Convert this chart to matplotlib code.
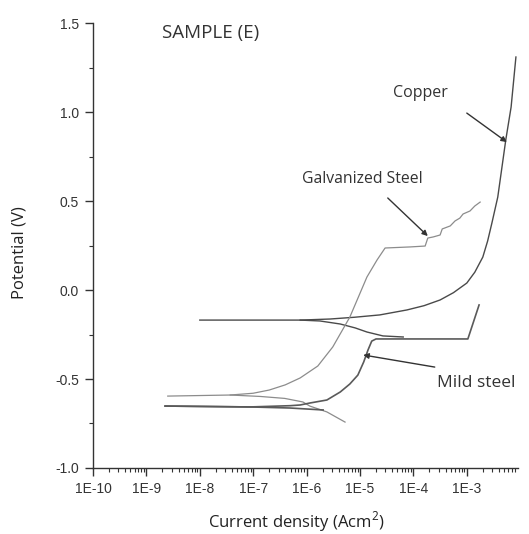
import numpy as np
import matplotlib
matplotlib.use("Agg")
import matplotlib.pyplot as plt
from matplotlib.ticker import FixedLocator, LogLocator, NullFormatter

plt.rcParams['font.family'] = ['Open Sans', 'DejaVu Sans']
plt.rcParams['mathtext.fontset'] = 'custom'
plt.rcParams['mathtext.rm'] = 'Open Sans'

# log10 of current density (A/cm2) and potential (V)
cu_anodic_logi = [-8.00, -6.12, -5.56, -5.10, -4.63, -4.12, -3.80, -3.50, -3.25, -3.00, -2.85, -2.70,
                  -2.61, -2.53, -2.42, -2.27, -2.17, -2.08]
cu_anodic_v = [-0.169, -0.169, -0.163, -0.153, -0.140, -0.112, -0.088, -0.056, -0.015, 0.039, 0.100, 0.185,
               0.275, 0.376, 0.522, 0.843, 1.028, 1.309]
cu_cathodic_logi = [-6.12, -5.75, -5.37, -5.09, -4.87, -4.57, -4.19]
cu_cathodic_v = [-0.169, -0.174, -0.191, -0.213, -0.236, -0.258, -0.264]

gs_anodic_logi = [-8.60, -7.43, -7.00, -6.70, -6.40, -6.12, -5.79, -5.51, -5.19, -4.87, -4.68, -4.53,
                  -4.06, -3.78, -3.73, -3.63, -3.50, -3.46, -3.31, -3.22, -3.13, -3.07, -2.94, -2.85, -2.75]
gs_anodic_v = [-0.596, -0.590, -0.580, -0.562, -0.533, -0.494, -0.427, -0.320, -0.152, 0.073, 0.169, 0.236,
               0.242, 0.247, 0.292, 0.298, 0.309, 0.343, 0.360, 0.388, 0.404, 0.427, 0.444, 0.472, 0.494]
gs_cathodic_logi = [-7.43, -6.87, -6.41, -6.07, -5.94, -5.62, -5.28]
gs_cathodic_v = [-0.590, -0.598, -0.609, -0.629, -0.652, -0.685, -0.742]

ms_anodic_logi = [-8.65, -7.06, -6.31, -6.12, -5.94, -5.62, -5.37, -5.19, -5.04, -4.93, -4.85, -4.78, -4.70,
                  -2.98, -2.77]
ms_anodic_v = [-0.652, -0.657, -0.650, -0.646, -0.635, -0.618, -0.573, -0.528, -0.478, -0.404, -0.337, -0.287,
               -0.275, -0.275, -0.084]
ms_cathodic_logi = [-8.65, -7.06, -6.31, -5.69]
ms_cathodic_v = [-0.652, -0.657, -0.663, -0.674]

yticks = [-1.0, -0.5, 0.0, 0.5, 1.0, 1.5]
xtick_exp = [-10, -9, -8, -7, -6, -5, -4, -3]
xtick_labels = ['1E-10', '1E-9', '1E-8', '1E-7', '1E-6', '1E-5', '1E-4', '1E-3']


def cur(logs):
    return 10.0 ** np.asarray(logs)


fig = plt.figure(figsize=(5.29, 5.34), dpi=100)
ax = fig.add_axes([0.1758, 0.1236, 0.8025, 0.8333])

ax.semilogx(cur(cu_anodic_logi), cu_anodic_v, color='#4a4a4a', lw=1.0)
ax.semilogx(cur(cu_cathodic_logi), cu_cathodic_v, color='#4a4a4a', lw=1.0)
ax.semilogx(cur(gs_anodic_logi), gs_anodic_v, color='#8c8c8c', lw=0.9)
ax.semilogx(cur(gs_cathodic_logi), gs_cathodic_v, color='#8c8c8c', lw=0.9)
ax.semilogx(cur(ms_anodic_logi), ms_anodic_v, color='#5a5a5a', lw=1.2)
ax.semilogx(cur(ms_cathodic_logi), ms_cathodic_v, color='#5a5a5a', lw=1.2)

ax.set_xlim(1e-10, 10 ** -2.05)
ax.set_ylim(-1.0, 1.5)
ax.spines['top'].set_visible(False)
ax.spines['right'].set_visible(False)
for s in ('left', 'bottom'):
    ax.spines[s].set_color('#333333')
    ax.spines[s].set_linewidth(1.0)

ax.xaxis.set_major_locator(FixedLocator(cur(xtick_exp)))
ax.set_xticklabels(xtick_labels)
ax.xaxis.set_minor_locator(LogLocator(base=10, subs=np.arange(2, 10), numticks=20))
ax.xaxis.set_minor_formatter(NullFormatter())
ax.set_yticks(yticks)
ax.set_yticklabels(['%.1f' % v for v in yticks])
ax.yaxis.set_minor_locator(FixedLocator(np.arange(-1.0, 1.51, 0.25)))

tick_font = ['Liberation Sans Narrow', 'Liberation Sans', 'DejaVu Sans']
for lab in ax.get_xticklabels() + ax.get_yticklabels():
    lab.set_family(tick_font)
    lab.set_fontsize(10)
    lab.set_color('#333333')
ax.tick_params(which='major', length=6, width=1.0, color='#333333', direction='out', pad=4)
ax.tick_params(which='minor', length=3, width=0.8, color='#333333', direction='out')

ax.set_xlabel('Current density (Acm$^2$)', fontsize=12, color='#222222', va='center')
ax.xaxis.set_label_coords(0.479, -0.121)
ax.set_ylabel('Potential (V)', fontsize=12, color='#222222', va='center')
ax.yaxis.set_label_coords(-0.172, 0.485)

ax.text(10 ** -8.71, 1.444, 'SAMPLE (E)', fontsize=13.5, color='#333333', va='center', ha='left')

arrow = dict(arrowstyle='-|>', color='#333333', lw=1.0, mutation_scale=8, shrinkA=0, shrinkB=0)
ax.annotate('', xy=(10 ** -2.25, 0.831), xytext=(10 ** -3.00, 0.994), arrowprops=arrow)
ax.text(10 ** -3.86, 1.107, 'Copper', fontsize=11.5, color='#333333', ha='center', va='center')
ax.annotate('', xy=(10 ** -3.73, 0.303), xytext=(10 ** -4.48, 0.517), arrowprops=arrow)
ax.text(10 ** -4.96, 0.624, 'Galvanized Steel', fontsize=11.3, color='#333333', ha='center', va='center')
ax.annotate('', xy=(10 ** -4.94, -0.365), xytext=(10 ** -3.60, -0.433), arrowprops=arrow)
ax.text(10 ** -3.56, -0.522, 'Mild steel', fontsize=12.5, color='#333333', ha='left', va='center',
        clip_on=False)

fig.savefig('out.png', dpi=100, facecolor='white')
